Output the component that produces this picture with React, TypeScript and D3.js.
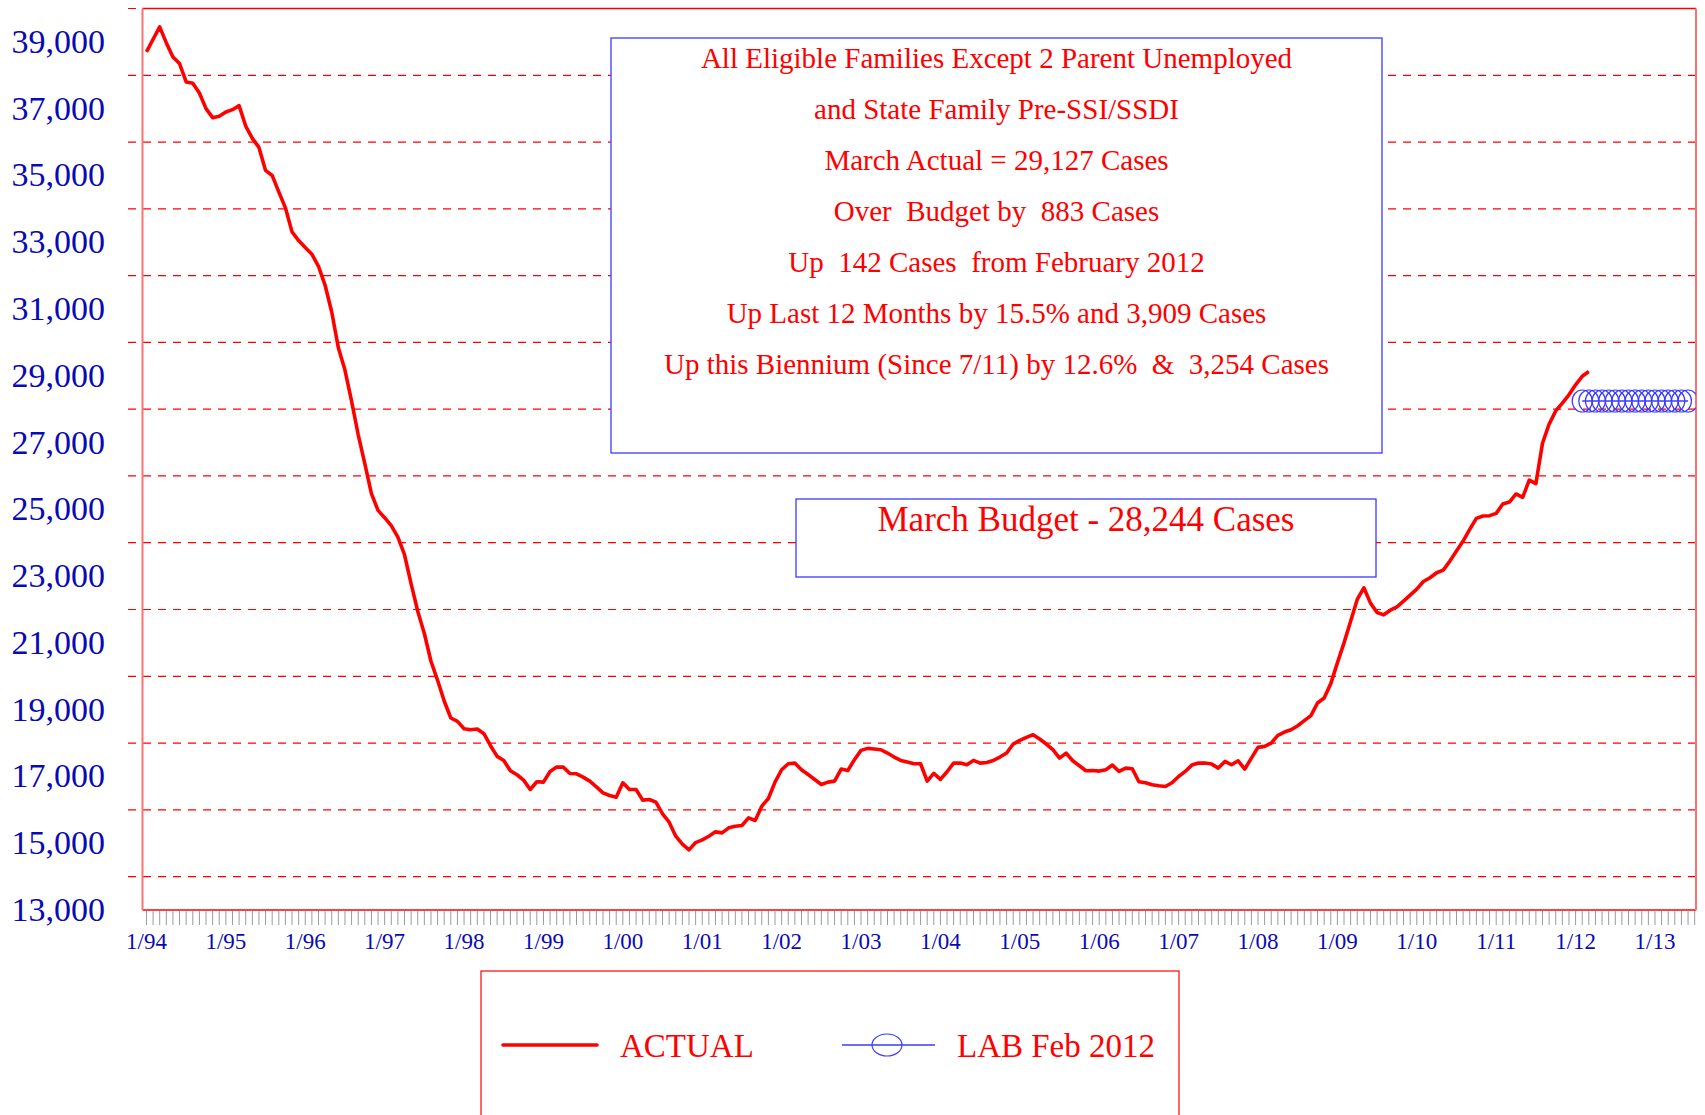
import { useEffect } from 'react';
import * as d3 from 'd3';

// monthly caseload, Jan 1994 .. Mar 2012
const actual = [
  38700, 39080, 39450, 38970, 38550, 38350, 37800, 37760, 37470, 37000, 36730, 36770,
  36900, 36970, 37090, 36480, 36110, 35840, 35150, 35000, 34510, 34030, 33310, 33050,
  32840, 32640, 32280, 31710, 30910, 29840, 29170, 28240, 27240, 26370, 25470, 24970,
  24750, 24510, 24170, 23640, 22770, 21950, 21280, 20450, 19880, 19260, 18750, 18650,
  18430, 18400, 18420, 18280, 17920, 17600, 17480, 17170, 17050, 16890, 16610, 16840,
  16830, 17150, 17280, 17280, 17090, 17080, 16980, 16860, 16690, 16510, 16430, 16380,
  16810, 16610, 16610, 16290, 16310, 16230, 15880, 15630, 15210, 14970, 14800, 15020,
  15100, 15210, 15340, 15310, 15460, 15510, 15530, 15760, 15680, 16110, 16340, 16830,
  17200, 17380, 17400, 17200, 17060, 16910, 16760, 16830, 16860, 17220, 17180, 17500,
  17780, 17840, 17820, 17800, 17700, 17580, 17480, 17430, 17380, 17380, 16860, 17090,
  16910, 17140, 17400, 17400, 17350, 17480, 17400, 17420, 17480, 17580, 17700, 17970,
  18080, 18170, 18250, 18120, 17970, 17800, 17550, 17700, 17470, 17320, 17170, 17180,
  17160, 17200, 17340, 17150, 17250, 17230, 16840, 16810, 16750, 16720, 16700, 16810,
  17000, 17150, 17340, 17400, 17400, 17370, 17250, 17450, 17350, 17470, 17220, 17550,
  17870, 17900, 18000, 18230, 18330, 18400, 18520, 18670, 18820, 19200, 19350, 19780,
  20400, 21000, 21650, 22300, 22650, 22190, 21910, 21840, 21980, 22080, 22250, 22430,
  22610, 22840, 22950, 23100, 23180, 23450, 23750, 24050, 24400, 24730, 24800, 24810,
  24880, 25160, 25218, 25460, 25360, 25873, 25770, 26980, 27550, 27950, 28180, 28430,
  28730, 28985, 29127,
];

// LAB Feb 2012 forecast, Feb 2012 .. Jun 2013
const LAB_START = 217;
const labFeb2012 = [
  28244, 28244, 28244, 28244, 28244, 28244, 28244, 28244, 28244,
  28244, 28244, 28244, 28244, 28244, 28244, 28244, 28244,
];

const yearLabels = ['1/94', '1/95', '1/96', '1/97', '1/98', '1/99', '1/00', '1/01', '1/02', '1/03',
  '1/04', '1/05', '1/06', '1/07', '1/08', '1/09', '1/10', '1/11', '1/12', '1/13'];
const yLabels = [13000, 15000, 17000, 19000, 21000, 23000, 25000, 27000, 29000, 31000, 33000,
  35000, 37000, 39000];
const gridValues = [14000, 16000, 18000, 20000, 22000, 24000, 26000, 28000, 30000, 32000, 34000,
  36000, 38000, 40000];

const noteLines = [
  'All Eligible Families Except 2 Parent Unemployed',
  'and State Family Pre-SSI/SSDI',
  'March Actual = 29,127 Cases',
  'Over  Budget by  883 Cases',
  'Up  142 Cases  from February 2012',
  'Up Last 12 Months by 15.5% and 3,909 Cases',
  'Up this Biennium (Since 7/11) by 12.6%  &  3,254 Cases',
];
const budgetNote = 'March Budget - 28,244 Cases';

const FONT = "'Liberation Serif', 'Times New Roman', serif";
const RED = '#ff0000';
const NAVY = '#0a0ab4';
const BLUE = '#3a3aff';

const left = 142.5, right = 1696, top = 8.5, bottom = 910;

export default function App() {
  useEffect(() => {
    document.body.style.margin = '0';
  }, []);

  const x = d3.scaleLinear().domain([-0.6, 234.2]).range([left, right]);
  const y = d3.scaleLinear().domain([13000, 40000]).range([bottom, top]);

  const line = d3.line<number>()
    .x((d, i) => x(i))
    .y(d => y(d));
  const labLine = d3.line<number>()
    .x((d, i) => x(LAB_START + i))
    .y(d => y(d));

  const months = d3.range(0, 235);

  return (
    <svg width={1705} height={1115} style={{ display: 'block', background: '#fff' }}>
      <defs>
        <clipPath id="plot">
          <rect x={left} y={top} width={right - left} height={bottom - top} />
        </clipPath>
      </defs>

      {/* gridlines */}
      {gridValues.map(v => (
        <line key={v} x1={128} x2={right} y1={y(v)} y2={y(v)}
          stroke={RED} strokeWidth={1.2} strokeDasharray="8 7" />
      ))}

      {/* monthly ticks */}
      {months.map(m => (
        <line key={m} x1={x(m)} x2={x(m)} y1={bottom + 1} y2={bottom + 15}
          stroke="#9a9a9a" strokeWidth={1} />
      ))}

      {/* frame */}
      <line x1={left} x2={right} y1={top} y2={top} stroke={RED} strokeWidth={1.5} />
      <line x1={left} x2={right} y1={bottom} y2={bottom} stroke={RED} strokeWidth={1.5} />
      <line x1={left} x2={left} y1={top} y2={bottom} stroke="#ff7070" strokeWidth={2} />
      <line x1={right} x2={right} y1={top} y2={bottom} stroke="#ff7070" strokeWidth={2} />

      {/* y labels */}
      {yLabels.map(v => (
        <text key={v} x={105} y={y(v) + 11} textAnchor="end" fontFamily={FONT}
          fontSize={34} fill={NAVY}>{d3.format(',')(v)}</text>
      ))}

      {/* x labels */}
      {yearLabels.map((t, k) => (
        <text key={t} x={x(k * 12)} y={949} textAnchor="middle" fontFamily={FONT}
          fontSize={23} fill={NAVY}>{t}</text>
      ))}

      {/* note boxes */}
      <rect x={611} y={38} width={771} height={415} fill="#fff" stroke={BLUE} strokeWidth={1.3} />
      {noteLines.map((t, k) => (
        <text key={k} x={996.5} y={68 + k * 51} textAnchor="middle" fontFamily={FONT}
          fontSize={29} fill={RED} style={{ whiteSpace: 'pre' }}>{t}</text>
      ))}
      <rect x={796} y={499} width={580} height={78} fill="#fff" stroke={BLUE} strokeWidth={1.3} />
      <text x={1086} y={531} textAnchor="middle" fontFamily={FONT} fontSize={35} fill={RED}>
        {budgetNote}
      </text>

      {/* series */}
      <g clipPath="url(#plot)">
        <path d={labLine(labFeb2012) ?? ''} fill="none" stroke={BLUE} strokeWidth={1.3} />
        {labFeb2012.map((v, i) => (
          <ellipse key={i} cx={x(LAB_START + i)} cy={y(v)} rx={10} ry={11}
            fill="none" stroke={BLUE} strokeWidth={1.2} />
        ))}
        <path d={line(actual) ?? ''} fill="none" stroke={RED} strokeWidth={3.6}
          strokeLinejoin="round" />
      </g>

      {/* legend */}
      <rect x={481} y={971} width={698} height={200} fill="#fff" stroke={RED} strokeWidth={1.2} />
      <line x1={503} x2={597} y1={1045} y2={1045} stroke={RED} strokeWidth={3.6}
        strokeLinecap="round" />
      <text x={620} y={1057} fontFamily={FONT} fontSize={33} fill={RED}>ACTUAL</text>
      <line x1={842} x2={935} y1={1045} y2={1045} stroke={BLUE} strokeWidth={1.3} />
      <ellipse cx={887} cy={1045} rx={15} ry={11} fill="none" stroke={BLUE} strokeWidth={1.2} />
      <text x={957} y={1057} fontFamily={FONT} fontSize={33} fill={RED}>LAB Feb 2012</text>
    </svg>
  );
}
